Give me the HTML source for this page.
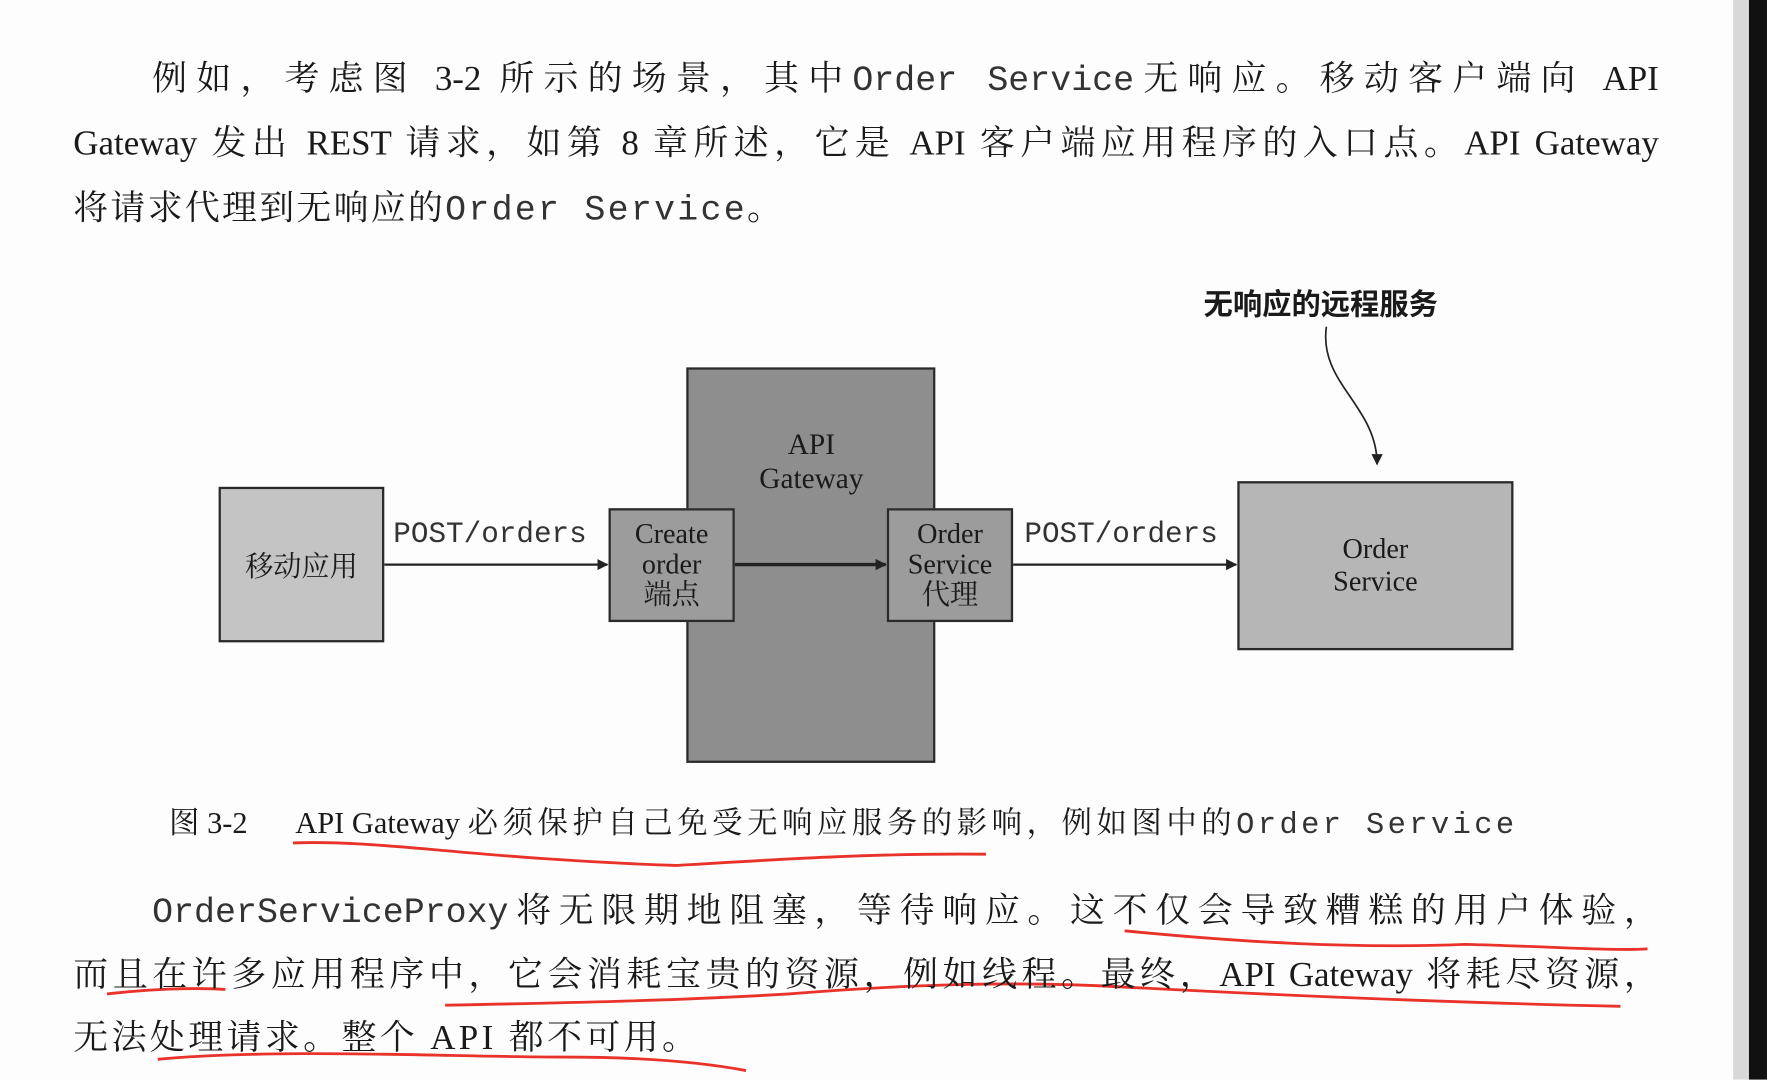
<!DOCTYPE html>
<html><head><meta charset="utf-8"><style>
html,body{margin:0;padding:0;background:#fff;overflow:hidden}
#w{position:relative;width:1568px;height:958px;transform:scale(1.12691);transform-origin:0 0;background:#fdfdfd;font-family:"Liberation Serif","Noto Serif CJK SC",serif;color:#1a1a1a}
.a{position:absolute;white-space:nowrap}
.m{font-family:"Liberation Mono","Noto Sans CJK SC",monospace;color:#333}
.j{text-align:justify;text-align-last:justify;white-space:normal}
.box{position:absolute;border:2px solid #2a2a2a;box-sizing:border-box;display:flex;align-items:center;justify-content:center;text-align:center;font-size:25px;line-height:27px}
</style></head><body><div id="w">
<div class="a" style="left:1538px;top:0;width:14px;height:958px;background:#d8d8d8"></div>
<div class="a" style="left:1552px;top:0;width:16px;height:958px;background:#111"></div>

<div class="a j" style="left:135px;top:50px;width:1337px;font-size:31px;line-height:40px">例如，考虑图 3-2 所示的场景，其中<span class="m">Order Service</span>无响应。移动客户端向 API</div>
<div class="a j" style="left:65px;top:107px;width:1407px;font-size:31px;line-height:40px">Gateway 发出 REST 请求，如第 8 章所述，它是 API 客户端应用程序的入口点。API Gateway</div>
<div class="a" style="left:65px;top:165px;font-size:31px;line-height:40px;letter-spacing:2px">将请求代理到无响应的<span class="m" style="letter-spacing:2px">Order Service</span>。</div>

<div class="a" style="left:1068px;top:250px;font-size:26px;font-weight:bold;font-family:'Noto Sans CJK SC',sans-serif">无响应的远程服务</div>

<svg class="a" style="left:0;top:0" width="1568" height="958">
<defs><marker id="ar" markerWidth="10" markerHeight="10" refX="9" refY="5" orient="auto" markerUnits="userSpaceOnUse"><path d="M0,0 L10,5 L0,10z" fill="#222"/></marker></defs>
<path d="M1177,290 C1170,340 1222,360 1222,412" stroke="#222" stroke-width="1.5" fill="none" marker-end="url(#ar)"/>
<rect x="610" y="327" width="219" height="349" fill="#8e8e8e" stroke="#2a2a2a" stroke-width="2"/>
<line x1="341" y1="501" x2="539" y2="501" stroke="#222" stroke-width="2" marker-end="url(#ar)"/>
<line x1="652" y1="501" x2="786" y2="501" stroke="#222" stroke-width="3" marker-end="url(#ar)"/>
<line x1="899" y1="501" x2="1097" y2="501" stroke="#222" stroke-width="2" marker-end="url(#ar)"/>
<g stroke="#e8322a" stroke-width="2.5" fill="none">
<path d="M260,748 C340,745 420,762 600,768 C700,762 780,757 875,758"/>
<path d="M998,826 C1100,836 1200,842 1300,838 C1380,840 1430,844 1462,842"/>
<path d="M95,882 C130,878 170,876 200,878"/>
<path d="M395,892 C500,890 600,888 700,882 C800,874 900,870 1000,876 C1150,884 1300,890 1438,893"/>
<path d="M140,940 C250,930 400,938 500,938 C580,938 630,944 662,950"/>
</g>
</svg>
<div class="a" style="left:667px;top:380px;width:106px;text-align:center;font-size:26px;line-height:30px">API<br>Gateway</div>

<div class="box" style="left:194px;top:432px;width:147px;height:138px;background:#c4c4c4;font-family:'Noto Serif CJK SC',serif;font-size:25px">移动应用</div>
<div class="box" style="left:540px;top:451px;width:112px;height:101px;background:#9c9c9c">Create<br>order<br>端点</div>
<div class="box" style="left:787px;top:451px;width:112px;height:101px;background:#9c9c9c">Order<br>Service<br>代理</div>
<div class="box" style="left:1098px;top:427px;width:245px;height:150px;background:#b6b6b6;line-height:29px">Order<br>Service</div>

<div class="a m" style="left:349px;top:459px;font-size:26px">POST/orders</div>
<div class="a m" style="left:909px;top:459px;font-size:26px">POST/orders</div>

<div class="a" style="left:150px;top:708px;font-size:27px">图 3-2</div>
<div class="a" style="left:262px;top:708px;font-size:27px">API Gateway <span style="letter-spacing:4px">必须保护自己免受无响应服务的影响，例如图中的</span><span class="m" style="letter-spacing:3px">Order Service</span></div>

<div class="a j" style="left:135px;top:788px;width:1337px;font-size:31px;line-height:40px"><span class="m">OrderServiceProxy</span>将无限期地阻塞，等待响应。这不仅会导致糟糕的用户体验，</div>
<div class="a j" style="left:65px;top:845px;width:1407px;font-size:31px;line-height:40px">而且在许多应用程序中，它会消耗宝贵的资源，例如线程。最终，API Gateway 将耗尽资源，</div>
<div class="a" style="left:65px;top:901px;font-size:31px;line-height:40px;letter-spacing:3px">无法处理请求。整个 API 都不可用。</div>
</div></body></html>
